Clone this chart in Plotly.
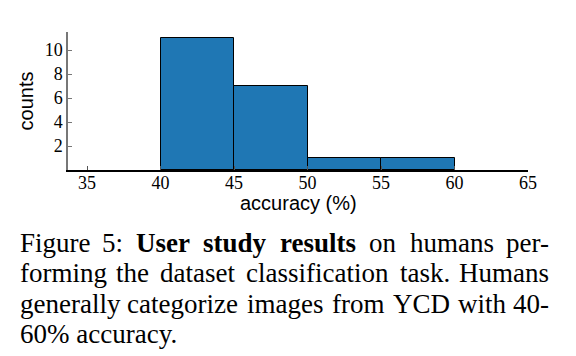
import plotly.graph_objects as go

bin_edges = [40, 45, 50, 55, 60]
counts = [11, 7, 1, 1]
x_ticks = [35, 40, 45, 50, 55, 60, 65]
y_ticks = [2, 4, 6, 8, 10]
x_title = "accuracy (%)"
y_title = "counts"
caption_lines = [
    "Figure 5: <b>User study results</b> on humans per-",
    "forming the dataset classification task. Humans",
    "generally categorize images from YCD with 40-",
    "60% accuracy.",
]

centers = [(a + b) / 2 for a, b in zip(bin_edges[:-1], bin_edges[1:])]
widths = [b - a for a, b in zip(bin_edges[:-1], bin_edges[1:])]

W, H = 576, 356
L, R, T, B = 68, 48, 32, 186

fig = go.Figure()
fig.add_trace(go.Bar(
    x=centers, y=counts, width=widths,
    marker=dict(color="#1f77b4", line=dict(color="black", width=1)),
))

serif = "Liberation Serif, Times New Roman, serif"
sans = "Liberation Sans, Arial, sans-serif"


def px_x(p):
    return (p - L) / (W - L - R)


def px_y(p):
    return (H - p - B) / (H - T - B)


fig.update_layout(
    width=W, height=H,
    margin=dict(l=L, r=R, t=T, b=B, pad=0),
    paper_bgcolor="white", plot_bgcolor="white",
    showlegend=False,
    bargap=0,
    xaxis=dict(
        range=[33.7, 65], tickvals=x_ticks, ticks="inside", ticklen=4,
        tickcolor="#555", tickwidth=1,
        showline=True, linecolor="black", linewidth=1.5,
        showgrid=False, zeroline=False, ticklabelstandoff=-4,
        tickfont=dict(family=serif, size=18, color="black"),
    ),
    yaxis=dict(
        range=[0, 11.5], tickvals=y_ticks, ticks="inside", ticklen=4,
        tickcolor="#777", tickwidth=1,
        showline=True, linecolor="#777", linewidth=1.5,
        showgrid=False, zeroline=False,
        tickfont=dict(family=serif, size=18, color="black"),
        title=dict(text=y_title, font=dict(family=sans, size=20, color="black"), standoff=6),
    ),
)

fig.add_annotation(text=x_title, xref="paper", yref="paper", x=0.5, y=px_y(203),
                   xanchor="center", yanchor="middle", showarrow=False,
                   font=dict(family=sans, size=20, color="black"))

# Times / Liberation Serif advance widths (1/1000 em) used to justify the caption
REG = dict(zip("abcdefghiklmnoprstuwyz", [444, 500, 444, 500, 444, 333, 500, 500, 278, 500, 278, 778,
                                          500, 500, 500, 333, 389, 278, 500, 722, 500, 444]))
REG.update({"C": 667, "D": 722, "F": 556, "H": 722, "Y": 722, "U": 722,
            "%": 833, "-": 333, ".": 250, ":": 278, " ": 250})
REG.update({d: 500 for d in "0123456789"})
BOLD = dict(REG)
BOLD.update({"r": 444, "t": 333, "u": 556, "d": 556, "U": 722, "s": 389, "e": 444, "y": 500, "l": 278})

FS = 27
LEFT, RIGHT = 18, 551


def words_of(line):
    out, bold = [], False
    for tok in line.split():
        if tok.startswith("<b>"):
            bold = True
        txt = tok.replace("<b>", "").replace("</b>", "")
        out.append((txt, bold))
        if tok.endswith("</b>"):
            bold = False
    return out


def wpx(txt, bold):
    tab = BOLD if bold else REG
    return sum(tab.get(c, 500) for c in txt) / 1000 * FS


baselines = [251.5, 282, 312.5, 343]
for i, (line, yb) in enumerate(zip(caption_lines, baselines)):
    ypos = px_y(yb + 8)
    font = dict(family=serif, size=FS, color="black")
    if i == len(caption_lines) - 1:
        fig.add_annotation(text=line, xref="paper", yref="paper", x=px_x(LEFT), y=ypos,
                           xanchor="left", yanchor="bottom", showarrow=False, font=font)
        continue
    words = words_of(line)
    ws = [wpx(t, b) for t, b in words]
    gap = (RIGHT - LEFT - sum(ws)) / (len(words) - 1)
    cur = LEFT
    for j, ((t, b), w) in enumerate(zip(words, ws)):
        txt = f"<b>{t}</b>" if b else t
        if j == 0:
            xp, anc = cur, "left"
        elif j == len(words) - 1:
            xp, anc = RIGHT, "right"
        else:
            xp, anc = cur + w / 2, "center"
        fig.add_annotation(text=txt, xref="paper", yref="paper", x=px_x(xp), y=ypos,
                           xanchor=anc, yanchor="bottom", showarrow=False, font=font)
        cur += w + gap

fig.write_html("out.html", config={"displayModeBar": False},
               post_script="document.body.style.margin='0';document.body.style.padding='0';")
